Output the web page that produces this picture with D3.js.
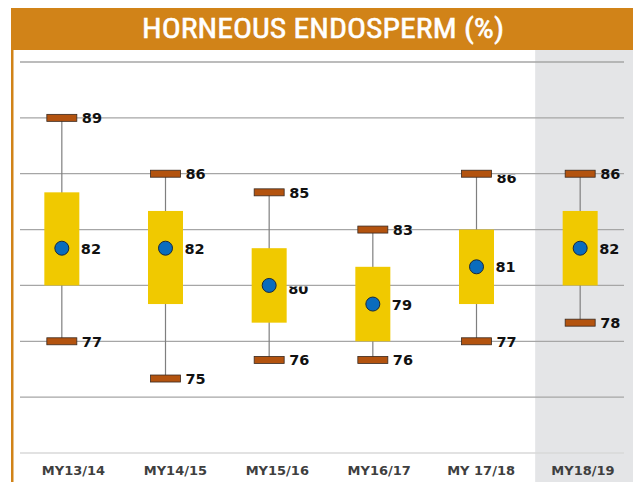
<!DOCTYPE html>
<html><head><meta charset="utf-8">
<script src="https://cdn.jsdelivr.net/npm/d3@7"></script>
<style>html,body{margin:0;padding:0;background:#fff;}svg{display:block;}</style>
</head><body>
<svg id="chart" width="633" height="482"></svg>
<script>
const categories = ["MY13/14","MY14/15","MY15/16","MY16/17","MY 17/18","MY18/19"];
const maxValues  = [89, 86, 85, 83, 86, 86];
const boxTop     = [85, 84, 82, 81, 83, 84];
const boxBottom  = [80, 79, 78, 77, 79, 80];
const meanValues = [82, 82, 80, 79, 81, 82];
const minValues  = [77, 75, 76, 76, 77, 78];
const yTicks     = [71, 74, 77, 80, 83, 86, 89, 92];
const titleText  = "HORNEOUS ENDOSPERM (%)";

const svg = d3.select("#chart");
const W = 633, H = 482;

const x = d3.scaleBand().domain(categories).range([10, 632]).padding(0);
const cx = c => x(c) + x.bandwidth() / 2;
const xLabel = d3.scalePoint().domain(categories).range([73.5, 583]);
const y = d3.scaleLinear().domain([71, 92]).range([453, 62]);

const defs = svg.append("defs");

// highlighted last column background
const last = categories[categories.length - 1];
svg.append("rect").attr("x", cx(last) - 45).attr("y", 50)
  .attr("width", W - (cx(last) - 45)).attr("height", H - 50).attr("fill", "#e4e5e7");

// gridlines
const grid = svg.append("g");
grid.selectAll("line").data(yTicks).join("line")
  .attr("x1", 20).attr("x2", 624)
  .attr("y1", d => y(d)).attr("y2", d => y(d))
  .attr("stroke", d => d === 71 ? "#d9d9d9" : "#a6a6a6")
  .attr("stroke-width", 1.3);

// title bar
svg.append("rect").attr("x", 11).attr("y", 8).attr("width", W - 11).attr("height", 42).attr("fill", "#d18318");
svg.append("rect").attr("x", 11).attr("y", 8).attr("width", 2.5).attr("height", H - 8).attr("fill", "#d18318");
svg.append("text").attr("x", 323).attr("y", 38).attr("text-anchor", "middle")
  .attr("font-family", "'Liberation Sans Narrow','Roboto Condensed','Liberation Sans',sans-serif")
  .attr("font-size", 27).attr("fill", "#fff").attr("stroke", "#fff").attr("stroke-width", 0.5)
  .attr("textLength", 362).attr("lengthAdjust", "spacingAndGlyphs")
  .text(titleText);

const data = categories.map((c, i) => ({i, c, max: maxValues[i], top: boxTop[i], bot: boxBottom[i], mean: meanValues[i], min: minValues[i]}));

const g = svg.append("g");
// whiskers
g.selectAll(".wh").data(data).join("line").attr("class", "wh")
  .attr("x1", d => cx(d.c)).attr("x2", d => cx(d.c))
  .attr("y1", d => y(d.max)).attr("y2", d => y(d.min))
  .attr("stroke", "#7f7f7f").attr("stroke-width", 1.2);
// boxes
g.selectAll(".bx").data(data).join("rect").attr("class", "bx")
  .attr("x", d => cx(d.c) - 17.5).attr("width", 35)
  .attr("y", d => y(d.top)).attr("height", d => y(d.bot) - y(d.top))
  .attr("fill", "#f0c900");
// caps
const capData = data.flatMap(d => [{i: d.i, c: d.c, v: d.max, kind: "max"}, {i: d.i, c: d.c, v: d.min, kind: "min"}]);
g.selectAll(".cap").data(capData).join("rect").attr("class", "cap")
  .attr("x", d => cx(d.c) - 15).attr("width", 30)
  .attr("y", d => y(d.v) - 3.5).attr("height", 7)
  .attr("fill", "#b3530f").attr("stroke", "#3a2a20").attr("stroke-width", 0.8);
// means
g.selectAll(".mn").data(data).join("circle").attr("class", "mn")
  .attr("cx", d => cx(d.c)).attr("cy", d => y(d.mean)).attr("r", 7)
  .attr("fill", "#0a6cbd").attr("stroke", "#1a2a3a").attr("stroke-width", 1);

// labels (two labels in the original are partly hidden above their gridline)
const hiddenTop = {"max-4": true, "mean-2": true};
function clipFor(key, cxv, yv) {
  if (!hiddenTop[key]) return null;
  const id = "clip-" + key;
  defs.append("clipPath").attr("id", id).append("rect")
    .attr("x", cxv).attr("y", yv + 1).attr("width", 60).attr("height", 30);
  return "url(#" + id + ")";
}
const lblFont = "'DejaVu Sans',Verdana,sans-serif";
const labels = g.append("g").attr("font-family", lblFont).attr("font-weight", "bold")
  .attr("font-size", 14.5).attr("fill", "#111");
labels.selectAll(".cl").data(capData).join("text")
  .each(function(d) {
    const key = d.kind + "-" + d.i;
    const c = clipFor(key, cx(d.c), y(d.v));
    const t = d3.select(this).attr("x", cx(d.c) + 20)
      .attr("y", y(d.v) + (c ? 9 : 5.5)).text(d.v);
    if (c) t.attr("clip-path", c);
  });
labels.selectAll(".ml").data(data).join("text")
  .each(function(d) {
    const key = "mean-" + d.i;
    const c = clipFor(key, cx(d.c), y(d.mean));
    const t = d3.select(this).attr("x", cx(d.c) + 19)
      .attr("y", y(d.mean) + (c ? 8.5 : 5.5)).text(d.mean);
    if (c) t.attr("clip-path", c);
  });

// category labels
svg.append("g").selectAll("text").data(categories).join("text")
  .attr("x", d => xLabel(d)).attr("y", 475).attr("text-anchor", "middle")
  .attr("font-family", lblFont).attr("font-weight", "bold").attr("font-size", 13)
  .attr("fill", "#3f3f3f").text(d => d);
</script>
</body></html>
